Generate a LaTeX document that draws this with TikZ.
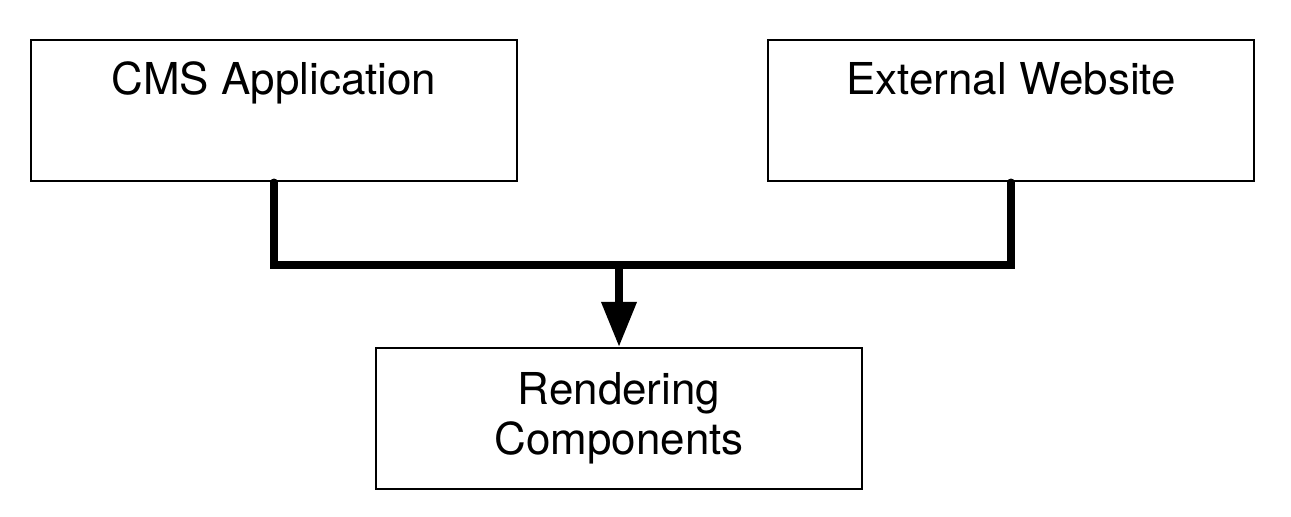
\documentclass[tikz,border=0pt]{standalone}
\usepackage{fontspec}
\setmainfont{TeX Gyre Heros}
\usetikzlibrary{arrows.meta}

\begin{document}
\begin{tikzpicture}[
	box/.style={draw, line width=0.7pt, minimum width=4.86cm, minimum height=1.41cm, inner sep=0pt, align=center, font=\fontsize{12.5}{14.2}\selectfont},
	bus/.style={line width=2.1pt, line cap=round, line join=miter}]
	\useasboundingbox (0,0) rectangle (12.91,5.17);
	\node[box] (cms) at (2.74,4.065) {CMS Application\\\strut};
	\node[box] (ext) at (10.11,4.065) {External Website\\\strut};
	\node[box] (render) at (6.19,0.985) {Rendering\\Components};
	%
	\coordinate (join) at (6.19,2.52);
	\draw[bus] (cms.south) |- (join) -| (ext.south);
	\draw[bus, line cap=butt, -{Triangle[width=0.34cm, length=0.45cm]}] (join) -- (render.north);
\end{tikzpicture}
\end{document}
